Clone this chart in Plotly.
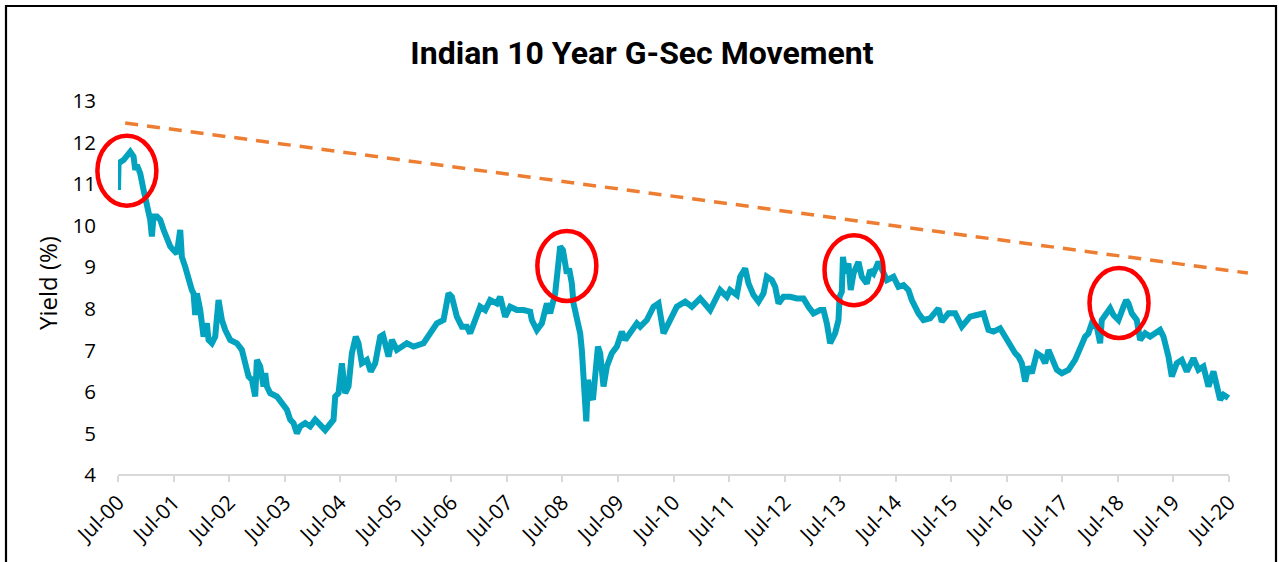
import plotly.graph_objects as go

# ---------------- data ----------------
# x in decimal years (2000.5 = Jul-2000)
years = [
    2000.50, 2000.51, 2000.60, 2000.66, 2000.72, 2000.78, 2000.81, 2000.84, 2000.90, 2000.96,
    2001.02, 2001.08, 2001.11, 2001.14, 2001.20, 2001.26, 2001.32, 2001.38, 2001.44, 2001.50,
    2001.56, 2001.62, 2001.65, 2001.71, 2001.77, 2001.83, 2001.86, 2001.89, 2001.92, 2001.98,
    2002.04, 2002.10, 2002.13, 2002.19, 2002.25, 2002.31, 2002.37, 2002.43, 2002.52, 2002.64,
    2002.73, 2002.79, 2002.85, 2002.91, 2002.97, 2003.00, 2003.06, 2003.12, 2003.15, 2003.18,
    2003.24, 2003.36, 2003.45, 2003.54, 2003.60, 2003.66, 2003.72, 2003.78, 2003.87, 2003.96,
    2004.05, 2004.11, 2004.23, 2004.38, 2004.41, 2004.47, 2004.53, 2004.59, 2004.65, 2004.71,
    2004.78, 2004.83, 2004.89, 2004.98, 2005.05, 2005.13, 2005.22, 2005.27, 2005.37, 2005.43,
    2005.52, 2005.70, 2005.82, 2006.00, 2006.12, 2006.24, 2006.36, 2006.45, 2006.51, 2006.60,
    2006.69, 2006.78, 2006.84, 2006.93, 2007.02, 2007.11, 2007.20, 2007.32, 2007.38, 2007.47,
    2007.56, 2007.68, 2007.80, 2007.92, 2007.95, 2008.04, 2008.13, 2008.22, 2008.28, 2008.37,
    2008.40, 2008.46, 2008.51, 2008.55, 2008.58, 2008.62, 2008.67, 2008.70, 2008.76, 2008.82,
    2008.85, 2008.89, 2008.93, 2008.96, 2009.00, 2009.05, 2009.09, 2009.14, 2009.18, 2009.24,
    2009.30, 2009.39, 2009.48, 2009.57, 2009.63, 2009.72, 2009.84, 2009.90, 2010.02, 2010.14,
    2010.23, 2010.32, 2010.44, 2010.56, 2010.71, 2010.83, 2010.98, 2011.16, 2011.34, 2011.46,
    2011.52, 2011.64, 2011.70, 2011.79, 2011.85, 2011.94, 2012.03, 2012.12, 2012.18, 2012.27,
    2012.33, 2012.39, 2012.48, 2012.60, 2012.72, 2012.84, 2012.93, 2013.02, 2013.14, 2013.20,
    2013.26, 2013.32, 2013.41, 2013.47, 2013.49, 2013.53, 2013.55, 2013.59, 2013.65, 2013.69,
    2013.74, 2013.83, 2013.89, 2013.98, 2014.04, 2014.10, 2014.19, 2014.28, 2014.34, 2014.46,
    2014.55, 2014.64, 2014.73, 2014.79, 2014.85, 2014.91, 2015.00, 2015.12, 2015.27, 2015.33,
    2015.45, 2015.57, 2015.69, 2015.84, 2015.96, 2016.08, 2016.17, 2016.26, 2016.38, 2016.47,
    2016.56, 2016.65, 2016.71, 2016.77, 2016.83, 2016.89, 2016.95, 2017.04, 2017.13, 2017.19,
    2017.25, 2017.31, 2017.40, 2017.49, 2017.61, 2017.73, 2017.82, 2017.91, 2017.97, 2018.03,
    2018.12, 2018.18, 2018.21, 2018.30, 2018.36, 2018.42, 2018.51, 2018.60, 2018.65, 2018.69,
    2018.75, 2018.84, 2018.90, 2018.99, 2019.08, 2019.17, 2019.26, 2019.32, 2019.41, 2019.47,
    2019.56, 2019.65, 2019.74, 2019.86, 2019.95, 2020.04, 2020.13, 2020.22, 2020.28, 2020.34,
    2020.40, 2020.49,
]
yields = [
    10.86, 11.50, 11.58, 11.70, 11.78, 11.66, 11.34, 11.46, 11.26, 10.86,
    10.54, 10.14, 9.74, 10.22, 10.22, 10.14, 9.90, 9.66, 9.50, 9.41,
    9.33, 9.90, 9.25, 9.01, 8.69, 8.45, 8.37, 7.85, 8.37, 7.97,
    7.33, 7.65, 7.25, 7.17, 7.33, 8.21, 7.73, 7.49, 7.25, 7.17,
    7.01, 6.69, 6.37, 6.29, 5.89, 6.77, 6.61, 6.13, 6.45, 6.13,
    5.97, 5.89, 5.73, 5.57, 5.33, 5.25, 5.00, 5.17, 5.25, 5.17,
    5.33, 5.25, 5.08, 5.33, 5.89, 5.97, 6.69, 5.97, 6.13, 6.93,
    7.33, 7.17, 6.69, 6.77, 6.49, 6.69, 7.33, 7.37, 6.85, 7.25,
    7.01, 7.17, 7.09, 7.17, 7.41, 7.65, 7.73, 8.37, 8.29, 7.81,
    7.57, 7.57, 7.41, 7.73, 8.05, 7.97, 8.21, 8.13, 8.29, 7.81,
    8.05, 7.97, 7.97, 7.93, 7.73, 7.49, 7.65, 8.13, 7.89, 8.37,
    8.69, 9.50, 9.41, 9.17, 8.85, 8.97, 8.61, 8.13, 7.73, 7.41,
    7.01, 6.29, 5.29, 6.29, 5.97, 5.81, 6.29, 7.09, 6.93, 6.13,
    6.61, 6.93, 7.09, 7.45, 7.25, 7.41, 7.65, 7.57, 7.73, 8.05,
    8.13, 7.41, 7.73, 8.05, 8.17, 8.05, 8.25, 7.97, 8.45, 8.29,
    8.45, 8.33, 8.77, 8.97, 8.61, 8.33, 8.17, 8.37, 8.77, 8.69,
    8.53, 8.13, 8.29, 8.29, 8.25, 8.25, 8.05, 7.89, 7.97, 7.97,
    7.65, 7.17, 7.41, 7.73, 8.29, 8.41, 9.25, 8.85, 9.09, 8.45,
    8.85, 9.13, 8.77, 8.61, 8.93, 8.85, 9.13, 8.85, 8.69, 8.77,
    8.53, 8.57, 8.45, 8.21, 8.05, 7.89, 7.73, 7.77, 8.01, 7.69,
    7.89, 7.89, 7.57, 7.81, 7.85, 7.89, 7.49, 7.45, 7.53, 7.33,
    7.09, 6.93, 6.85, 6.69, 6.25, 6.61, 6.45, 6.93, 6.85, 6.69,
    7.01, 6.85, 6.53, 6.45, 6.53, 6.77, 7.09, 7.33, 7.41, 7.65,
    7.57, 7.17, 7.73, 7.93, 8.01, 7.85, 7.73, 8.05, 8.21, 8.13,
    7.89, 7.73, 7.25, 7.41, 7.33, 7.41, 7.49, 7.33, 6.85, 6.37,
    6.69, 6.77, 6.49, 6.81, 6.53, 6.61, 6.13, 6.49, 6.21, 5.81,
    5.93, 5.85,
]

# dashed resistance / trend line end points
trend_years = [2000.63, 2020.84]
trend_values = [12.47, 8.86]

# highlighted peaks (circle centres)
peak_years = [2000.66, 2008.58, 2013.75, 2018.52]
peak_values = [11.32, 9.03, 8.93, 8.14]

tick_years = [2000.5 + i for i in range(21)]
tick_labels = ["Jul-%02d" % i for i in range(21)]
y_ticks = [4, 5, 6, 7, 8, 9, 10, 11, 12, 13]

# ---------------- layout geometry ----------------
W, H = 1279, 562
ML, MR, MT, MB = 118, 29, 101, 87
X_RANGE = [2000.5, 2020.878]


def px_to_paper_x(px):
    return (px - ML) / (W - ML - MR)


def px_to_paper_y(py):
    return (H - MB - py) / (H - MT - MB)


def year_to_paper(yr):
    # map through the x-axis range so the circles are not clipped at the left edge
    return (yr - X_RANGE[0]) / (X_RANGE[1] - X_RANGE[0])


FONT = "Open Sans, Noto Sans, sans-serif"

fig = go.Figure()

fig.add_trace(go.Scatter(
    x=years, y=yields, mode="lines",
    line=dict(color="#03A3BF", width=6),
    hoverinfo="x+y", showlegend=False,
))

fig.add_trace(go.Scatter(
    x=trend_years, y=trend_values, mode="lines",
    line=dict(color="#ED7D31", width=3.5, dash="13px,9px"),
    showlegend=False, hoverinfo="skip",
))

shapes = []
for px_, py_ in zip(peak_years, peak_values):
    shapes.append(dict(
        type="circle", xref="paper", yref="y",
        xsizemode="pixel", ysizemode="pixel",
        xanchor=year_to_paper(px_), yanchor=py_,
        x0=-29.5, x1=29.5, y0=-35, y1=35,
        line=dict(color="#FF0000", width=4.5),
    ))

# x-axis baseline (Jul-00 .. Jul-20 only)
shapes.append(dict(
    type="line", xref="x", yref="paper",
    x0=tick_years[0], x1=tick_years[-1], y0=0, y1=0,
    line=dict(color="#D9D9D9", width=2),
))

# outer frame
shapes.append(dict(
    type="rect", xref="paper", yref="paper",
    x0=px_to_paper_x(6), x1=px_to_paper_x(1276),
    y0=px_to_paper_y(600), y1=px_to_paper_y(6),
    line=dict(color="#000000", width=2.2),
    fillcolor="rgba(0,0,0,0)",
))

fig.update_layout(
    width=W, height=H,
    margin=dict(l=ML, r=MR, t=MT, b=MB),
    paper_bgcolor="white", plot_bgcolor="white",
    shapes=shapes,
    title=dict(
        text="<b>Indian 10 Year G-Sec Movement</b>",
        x=642 / W, xanchor="center",
        y=1 - 53 / H, yanchor="middle", yref="container",
        font=dict(family="Roboto, sans-serif", size=32, color="#000000"),
    ),
    annotations=[dict(
        text="Yield (%)", textangle=-90,
        xref="paper", yref="paper",
        x=px_to_paper_x(47), y=px_to_paper_y(283),
        xanchor="center", yanchor="middle", showarrow=False,
        font=dict(family=FONT, size=24, color="#000000"),
    )],
    xaxis=dict(
        range=X_RANGE, tickmode="array", tickvals=tick_years, ticktext=tick_labels,
        tickangle=-45, showgrid=False, zeroline=False, showline=False,
        ticks="outside", ticklen=6, tickwidth=2, tickcolor="#D9D9D9",
        tickfont=dict(family=FONT, size=21, color="#000000"),
    ),
    yaxis=dict(
        range=[4, 13], tickmode="array", tickvals=y_ticks,
        showgrid=False, zeroline=False, showline=False, ticks="",
        ticklabelstandoff=21,
        tickfont=dict(family=FONT, size=20.5, color="#000000"),
    ),
)

fig.write_html("out.html", config={"displayModeBar": False},
               post_script="document.body.style.margin='0px';")
